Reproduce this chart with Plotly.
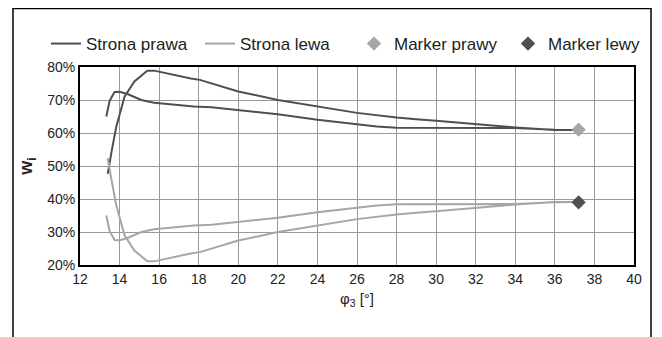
import plotly.graph_objects as go

# Strona prawa: one open loop (inner branch to the right end, then back along the outer branch)
x_loop = [13.33, 13.5, 13.75, 14.0, 14.4, 15.1, 15.75, 16.75, 17.75, 18.65, 20, 22, 24, 26, 27, 28, 30, 32, 34, 36, 37.2,
          36, 34, 32, 30, 29, 28, 26, 24, 22, 20, 18.6, 18.06, 17.6, 16.6, 15.75, 15.4, 14.75, 14.25, 13.83, 13.6, 13.4]
prawa = [65.0, 69.8, 72.4, 72.5, 71.8, 70.0, 69.2, 68.5, 68.0, 67.8, 67.0, 65.7, 64.0, 62.6, 62.0, 61.6, 61.6, 61.6, 61.5, 61.0, 60.9,
         60.9, 61.7, 62.6, 63.7, 64.2, 64.7, 66.1, 68.0, 70.0, 72.6, 75.1, 76.1, 76.5, 77.8, 78.9, 78.9, 75.6, 71.0, 61.8, 54.5, 47.6]
lewa = [35.0, 30.2, 27.6, 27.5, 28.2, 30.0, 30.8, 31.5, 32.0, 32.2, 33.0, 34.3, 36.0, 37.4, 38.0, 38.4, 38.4, 38.4, 38.5, 39.0, 39.1,
        39.1, 38.3, 37.4, 36.3, 35.8, 35.3, 33.9, 32.0, 30.0, 27.4, 24.9, 23.9, 23.5, 22.2, 21.1, 21.1, 24.4, 29.0, 38.2, 45.5, 52.4]

marker_x = [37.2]
marker_prawy = [61.0]
marker_lewy = [39.0]

x_ticks = list(range(12, 41, 2))
y_ticks = [20, 30, 40, 50, 60, 70, 80]
y_labels = [f"{v}%" for v in y_ticks]

dark = "#4f4f4f"
light = "#a6a6a6"

fig = go.Figure()
fig.add_trace(go.Scatter(x=x_loop, y=prawa, mode="lines", name="Strona prawa",
                         line=dict(color=dark, width=2)))
fig.add_trace(go.Scatter(x=x_loop, y=lewa, mode="lines", name="Strona lewa",
                         line=dict(color=light, width=2)))
fig.add_trace(go.Scatter(x=marker_x, y=marker_prawy, mode="markers", name="Marker prawy",
                         marker=dict(symbol="diamond", color=light, size=11)))
fig.add_trace(go.Scatter(x=marker_x, y=marker_lewy, mode="markers", name="Marker lewy",
                         marker=dict(symbol="diamond", color=dark, size=11)))

# page body has an 8px margin, so the figure is shifted by 8px
L, R, T, B = 72, 28, 59, 72
W, H = 654, 329
pw, ph = W - L - R, H - T - B
base = T + ph  # plot bottom in figure px

fig.update_layout(
    width=W, height=H,
    margin=dict(l=L, r=R, t=T, b=B),
    paper_bgcolor="white", plot_bgcolor="white",
    font=dict(family="Liberation Sans, Arial, sans-serif", size=14, color="#222222"),
    showlegend=True,
    legend=dict(orientation="h", x=(38 - L) / pw, xanchor="left", y=(base - 36) / ph, yanchor="middle",
                font=dict(size=17), bgcolor="rgba(0,0,0,0)", itemwidth=30,
                entrywidth=109, entrywidthmode="pixels"),
    xaxis=dict(range=[12, 40], tickvals=x_ticks, ticks="", showgrid=True, gridcolor="#999999", gridwidth=1,
               showline=True, mirror=True, linecolor="black", linewidth=2, zeroline=False,
               tickfont=dict(size=14),
               title=dict(text="φ<sub>3</sub> [°]", font=dict(size=15), standoff=8)),
    yaxis=dict(range=[20, 80], tickvals=y_ticks, ticktext=y_labels, ticks="", showgrid=True,
               gridcolor="#999999", gridwidth=1, showline=True, mirror=True, linecolor="black",
               linewidth=2, zeroline=False, tickfont=dict(size=14),
               title=dict(text="<b>w<sub>i</sub></b>", font=dict(size=18), standoff=10)),
    shapes=[dict(type="rect", xref="paper", yref="paper",
                 x0=(5 - L) / pw, x1=(643 - L) / pw,
                 y0=(base - 345) / ph, y1=(base - 0.5) / ph,
                 line=dict(color="black", width=1.5), layer="above")],
)

fig.write_html("out.html")
